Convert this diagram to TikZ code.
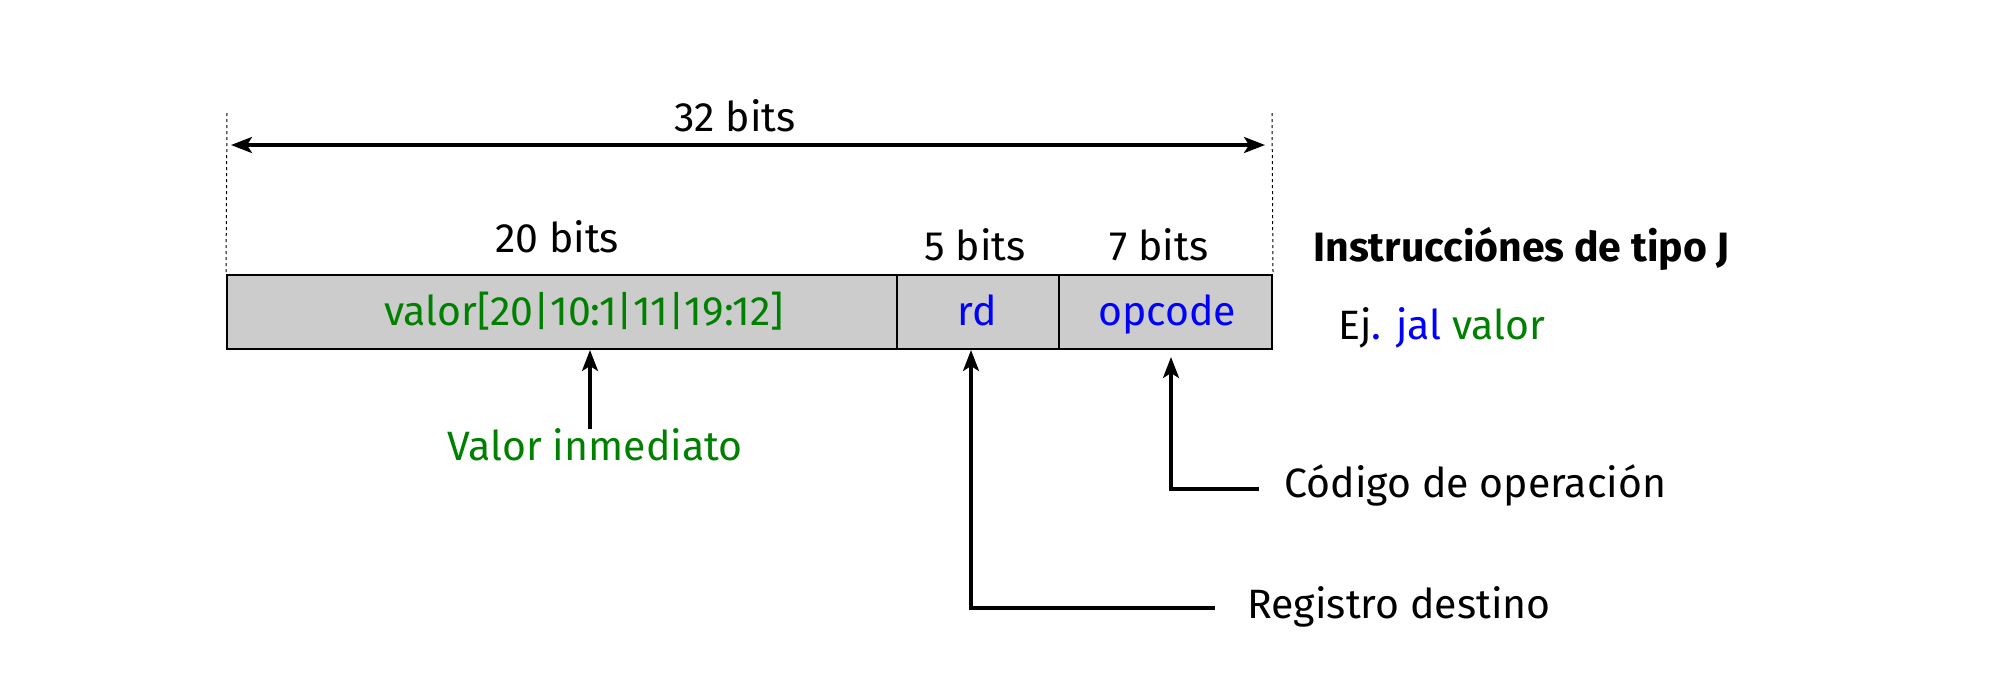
\documentclass[tikz,border=0pt]{standalone}
\usepackage{fontspec}
\setmainfont{Fira Sans}
\usetikzlibrary{arrows.meta}
\definecolor{vgreen}{RGB}{0,128,0}
\definecolor{vblue}{RGB}{0,0,255}
\definecolor{boxgray}{RGB}{204,204,204}
\begin{document}
\begin{tikzpicture}[x=0.5pt,y=-0.5pt,
  font=\fontsize{20.5}{25}\selectfont,
  field/.style={draw=black, fill=boxgray, line width=1pt, minimum height=37pt, inner sep=0pt},
  txt/.style={anchor=base, inner sep=0pt},
  ltxt/.style={anchor=base west, inner sep=0pt},
  arr/.style={line width=1.6pt, -{Stealth[length=10.5pt,width=8pt,inset=2.5pt]}},
  dimarr/.style={line width=1.6pt, {Stealth[length=10.5pt,width=8pt,inset=2.5pt]}-{Stealth[length=10.5pt,width=8pt,inset=2.5pt]}},
  guide/.style={line width=0.5pt, dash pattern=on 1.5pt off 1.5pt}]
\useasboundingbox (0,0) rectangle (2000,698);
\fill[white] (0,0) rectangle (2000,698);

% fields
\node[field, minimum width=335pt] (imm) at (562,312) {};
\node[field, minimum width=81pt] (rd) at (978,312) {};
\node[field, minimum width=106.5pt] (op) at (1165.5,312) {};

\node[txt, text=vgreen] (immt) at (584,325) {valor[20|10:1|11|19:12]};
\node[txt, text=vblue] (rdt) at (977,325) {rd};
\node[txt, text=vblue] (opt) at (1167,325) {opcode};

% widths
\node[txt] (w20) at (557,252) {20 bits};
\node[txt] (w5) at (975,260) {5 bits};
\node[txt] (w7) at (1159,260) {7 bits};
\node[txt] (w32) at (735,131) {32 bits};

% guide lines
\coordinate (gl) at (227,113);
\coordinate (gr) at (1272,113);
\draw[guide] (gl) -- (imm.north west);
\draw[guide] (gr) -- (op.north east);
\coordinate (al) at (231,145);
\coordinate (ar) at (1265,145);
\draw[dimarr] (al) -- (ar);

% title and example
\node[ltxt, font=\fontsize{20.5}{25}\selectfont\bfseries] (title) at (1313,261) {Instrucciónes de tipo J};
\node[ltxt] (ex) at (1338,339) {Ej\textcolor{vblue}{. jal} \textcolor{vgreen}{valor}};

% immediate
\coordinate (c1) at (590,429);
\draw[arr] (c1) -- (c1 |- imm.south);
\node[txt, text=vgreen] (immlab) at (595,460) {Valor inmediato};

% rd
\coordinate (c2) at (1215,608);
\coordinate (k2) at (971,608);
\draw[arr] (c2) -- (k2) -- (k2 |- rd.south);
\node[ltxt] (rdlab) at (1247,618) {Registro destino};

% opcode
\coordinate (c3) at (1259,489);
\coordinate (k3) at (1171,489);
\coordinate (t3) at (1171,357);
\draw[arr] (c3) -- (k3) -- (t3);
\node[ltxt] (oplab) at (1284,497) {Código de operación};
\end{tikzpicture}
\end{document}
